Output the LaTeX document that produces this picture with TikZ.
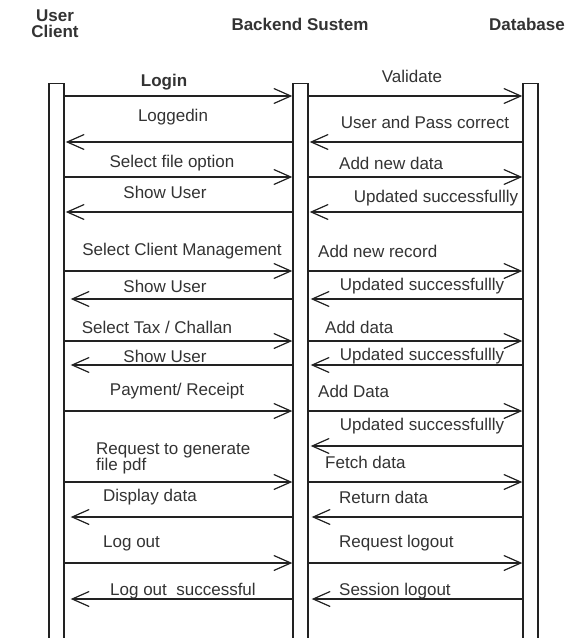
\documentclass[tikz,border=0pt]{standalone}
\usepackage{fontspec}
\setmainfont{Liberation Sans}
\usetikzlibrary{arrows.meta}
\definecolor{ink}{HTML}{222222}
\definecolor{txt}{HTML}{333333}
\begin{document}
\begin{tikzpicture}[x=1pt,y=-1pt,
  lifeline/.style={draw=ink,line width=1.4pt,minimum width=15pt,minimum height=580pt,inner sep=0pt,anchor=north},
  msg/.style={draw=ink,line width=1.2pt,-{Straight Barb[length=17pt,width=15pt]}},
  lbl/.style={text=txt,font=\fontsize{17}{16}\selectfont,inner sep=0pt},
  lbw/.style={lbl,anchor=west},
  hdr/.style={text=txt,font=\bfseries\fontsize{17}{16}\selectfont,inner sep=0pt,align=center}]
\useasboundingbox (0,0) rectangle (577,638);
\fill[white] (0,0) rectangle (577,638);
% headers
\node[hdr] (hU) at (55,24) {User\\Client};
\node[hdr] (hB) at (300,24) {Backend Sustem};
\node[hdr] (hD) at (527,24) {Database};
% lifelines
\node[lifeline] (L) at (56.5,83) {};
\node[lifeline] (M) at (300.5,83) {};
\node[lifeline] (R) at (530.5,83) {};
% left section messages
\draw[msg] (L.east |- 0,96) -- (M.west |- 0,96);
\draw[msg] (M.west |- 0,142) -- ([xshift=1pt]L.east |- 0,142);
\draw[msg] (L.east |- 0,177) -- (M.west |- 0,177);
\draw[msg] (M.west |- 0,212) -- ([xshift=1pt]L.east |- 0,212);
\draw[msg] (L.east |- 0,271) -- (M.west |- 0,271);
\draw[msg] (M.west |- 0,299) -- ([xshift=6pt]L.east |- 0,299);
\draw[msg] (L.east |- 0,341) -- (M.west |- 0,341);
\draw[msg] (M.west |- 0,365) -- ([xshift=6pt]L.east |- 0,365);
\draw[msg] (L.east |- 0,411) -- (M.west |- 0,411);
\draw[msg] (L.east |- 0,482) -- (M.west |- 0,482);
\draw[msg] (M.west |- 0,517) -- ([xshift=6pt]L.east |- 0,517);
\draw[msg] (L.east |- 0,563) -- (M.west |- 0,563);
\draw[msg] (M.west |- 0,599) -- ([xshift=6pt]L.east |- 0,599);
% right section messages
\draw[msg] (M.east |- 0,96) -- (R.west |- 0,96);
\draw[msg] (R.west |- 0,142) -- ([xshift=1pt]M.east |- 0,142);
\draw[msg] (M.east |- 0,177) -- (R.west |- 0,177);
\draw[msg] (R.west |- 0,212) -- ([xshift=1pt]M.east |- 0,212);
\draw[msg] (M.east |- 0,271) -- (R.west |- 0,271);
\draw[msg] (R.west |- 0,299) -- ([xshift=2pt]M.east |- 0,299);
\draw[msg] (M.east |- 0,341) -- (R.west |- 0,341);
\draw[msg] (R.west |- 0,365) -- ([xshift=2pt]M.east |- 0,365);
\draw[msg] (M.east |- 0,411) -- (R.west |- 0,411);
\draw[msg] (R.west |- 0,446) -- ([xshift=2pt]M.east |- 0,446);
\draw[msg] (M.east |- 0,482) -- (R.west |- 0,482);
\draw[msg] (R.west |- 0,517) -- ([xshift=3pt]M.east |- 0,517);
\draw[msg] (M.east |- 0,563) -- (R.west |- 0,563);
\draw[msg] (R.west |- 0,599) -- ([xshift=3pt]M.east |- 0,599);
% left labels
\node[lbl,font=\bfseries\fontsize{17}{16}\selectfont] (a1) at (164,82) {Login};
\node[lbl] (a2) at (173,117) {Loggedin};
\node[lbl] (a3) at (172,163) {Select file option};
\node[lbl] (a4) at (165,192) {Show User};
\node[lbl] (a5) at (182,251) {Select Client Management};
\node[lbl] (a6) at (165,286) {Show User};
\node[lbl] (a7) at (157,327) {Select Tax / Challan};
\node[lbl] (a8) at (165,356) {Show User};
\node[lbl] (a9) at (177,391) {Payment/ Receipt};
\node[lbw,align=left] (a10) at (96,458) {Request to generate\\file pdf};
\node[lbw] (a11) at (103,497) {Display data};
\node[lbw] (a12) at (103,543) {Log out};
\node[lbw] (a13) at (110,591) {Log out~~successful};
% right labels
\node[lbl] (b1) at (412,76) {Validate};
\node[lbl] (b2) at (425,122) {User and Pass correct};
\node[lbw] (b3) at (339,163) {Add new data};
\node[lbl] (b4) at (436,198) {Updated successfullly};
\node[lbw] (b5) at (318,251) {Add new record};
\node[lbl] (b6) at (422,286) {Updated successfullly};
\node[lbw] (b7) at (325,327) {Add data};
\node[lbl] (b8) at (422,356) {Updated successfullly};
\node[lbw] (b9) at (318,391) {Add Data};
\node[lbl] (b10) at (422,426) {Updated successfullly};
\node[lbw] (b11) at (325,462) {Fetch data};
\node[lbw] (b12) at (339,497) {Return data};
\node[lbw] (b13) at (339,543) {Request logout};
\node[lbw] (b14) at (339,591) {Session logout};
\end{tikzpicture}
\end{document}
